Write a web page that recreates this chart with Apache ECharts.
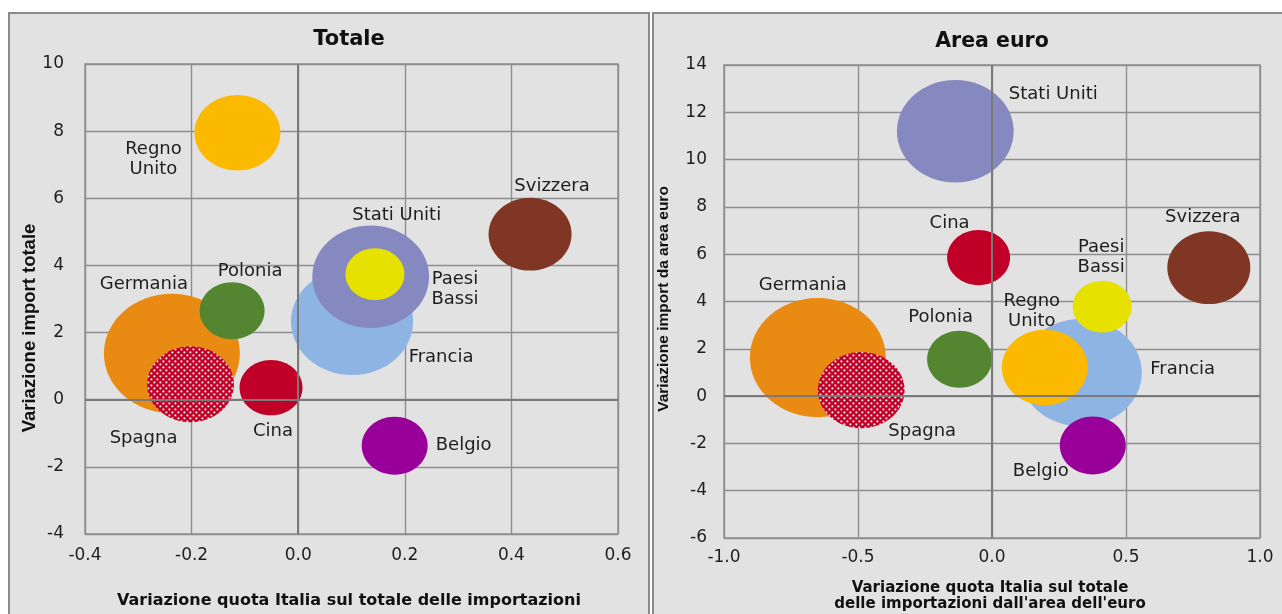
<!DOCTYPE html>
<html>
<head>
<meta charset="utf-8">
<title>Variazione quota Italia e import</title>
<script src="https://cdn.jsdelivr.net/npm/echarts@6/dist/echarts.min.js"></script>
<style>
  html, body { margin: 0; padding: 0; background: #ffffff; }
  #wrap { position: relative; width: 1282px; height: 614px; overflow: hidden; }
  .panel { position: absolute; box-sizing: border-box; border: 2px solid #8a8a8a; background: #e2e2e2; }
  #p1 { left: 8px; top: 12px; width: 642px; height: 640px; }
  #p2 { left: 652px; top: 12px; width: 640px; height: 640px; }
  #chart { position: absolute; left: 0; top: 0; width: 1282px; height: 614px; }
</style>
</head>
<body>
<div id="wrap">
  <div class="panel" id="p1"></div>
  <div class="panel" id="p2"></div>
  <div id="chart"></div>
</div>
<script>
// ---- data ----
const countries = ['Germania', 'Spagna', 'Francia', 'Stati Uniti', 'Regno Unito',
                   'Paesi Bassi', 'Belgio', 'Svizzera', 'Polonia', 'Cina'];
// bubble weight (same for both panels)
const weights = [13.0, 5.3, 10.5, 9.6, 5.2, 2.45, 3.06, 4.85, 2.97, 2.79];

// Totale: change in Italy's share (x) and change in total imports (y)
const totShare  = [-0.237, -0.202, 0.101, 0.136, -0.114, 0.144, 0.181, 0.435, -0.124, -0.051];
const totImport = [1.38, 0.46, 2.33, 3.66, 7.95, 3.74, -1.37, 4.93, 2.65, 0.36];

// Area euro: change in Italy's share of euro-area imports (x) and change in imports from euro area (y)
const euroShare  = [-0.650, -0.488, 0.331, -0.137, 0.197, 0.411, 0.376, 0.809, -0.121, -0.050];
const euroImport = [1.63, 0.25, 0.99, 11.20, 1.21, 3.78, -2.09, 5.43, 1.56, 5.86];

// axis ranges: [min, max, interval]
const totXRange  = [-0.4, 0.6, 0.2];
const totYRange  = [-4, 10, 2];
const euroXRange = [-1.0, 1.0, 0.5];
const euroYRange = [-6, 14, 2];

// ---- styling ----
const colors = {
  'Germania': '#E98A12', 'Spagna': '#C00027', 'Francia': '#8DB4E2', 'Stati Uniti': '#8589C0',
  'Regno Unito': '#FBBA00', 'Paesi Bassi': '#E6E100', 'Belgio': '#990099',
  'Svizzera': '#7F3624', 'Polonia': '#548631', 'Cina': '#C00027'
};
const wrapped = { 'Regno Unito': 'Regno\nUnito', 'Paesi Bassi': 'Paesi\nBassi' };

// label offsets (px) from the bubble centre
const totLabelOffset = {
  'Germania': [-28, -69], 'Spagna': [-47, 54], 'Francia': [89, 36], 'Stati Uniti': [26, -62],
  'Regno Unito': [-84, 27], 'Paesi Bassi': [80, 15], 'Belgio': [69, 0],
  'Svizzera': [22, -48], 'Polonia': [18, -39], 'Cina': [2, 44]
};
const euroLabelOffset = {
  'Germania': [-15, -72], 'Spagna': [61, 41], 'Francia': [102, -3], 'Stati Uniti': [98, -37],
  'Regno Unito': [-13, -56], 'Paesi Bassi': [-1, -49], 'Belgio': [-52, 26],
  'Svizzera': [-6, -50], 'Polonia': [-19, -42], 'Cina': [-29, -34]
};

const BUBBLE_K = 37.7;      // width in px per sqrt(weight)
const BUBBLE_ASPECT = 1.14; // bubbles are drawn slightly wider than tall

const FONT = 'DejaVu Sans';
const TEXT = '#1e1e1e';
const GRID_LINE = '#8e8e8e';

// red fill with small white dots for Spagna
function dottedRed() {
  const c = document.createElement('canvas');
  c.width = 6; c.height = 6;
  const g = c.getContext('2d');
  g.fillStyle = '#C00027';
  g.fillRect(0, 0, 6, 6);
  g.fillStyle = '#ffffff';
  g.fillRect(0.5, 0.5, 1.8, 1.8);
  g.fillRect(3.5, 3.5, 1.8, 1.8);
  return c;
}
const spagnaFill = { image: dottedRed(), repeat: 'repeat' };

function seriesData(xs, ys) {
  return countries.map((name, i) => ({ name: name, value: [xs[i], ys[i], weights[i]] }));
}

// ellipse bubbles
function bubbleSeries(idx, xs, ys) {
  return {
    type: 'custom', xAxisIndex: idx, yAxisIndex: idx, z: 3, silent: true,
    encode: { x: 0, y: 1 },
    data: seriesData(xs, ys),
    renderItem: function (params, api) {
      const name = countries[params.dataIndex];
      const p = api.coord([api.value(0), api.value(1)]);
      const w = BUBBLE_K * Math.sqrt(api.value(2));
      return {
        type: 'ellipse',
        shape: { cx: p[0], cy: p[1], rx: w / 2, ry: w / 2 / BUBBLE_ASPECT },
        style: { fill: name === 'Spagna' ? spagnaFill : colors[name], stroke: null }
      };
    }
  };
}

// country names, drawn above every bubble
function labelSeries(idx, xs, ys, offsets) {
  return {
    type: 'custom', xAxisIndex: idx, yAxisIndex: idx, z: 4, silent: true,
    encode: { x: 0, y: 1 },
    data: seriesData(xs, ys),
    renderItem: function (params, api) {
      const name = countries[params.dataIndex];
      const p = api.coord([api.value(0), api.value(1)]);
      const off = offsets[name];
      return {
        type: 'text',
        x: p[0] + off[0], y: p[1] + off[1],
        style: {
          text: wrapped[name] || name,
          font: '18px "DejaVu Sans"', lineHeight: 20, fill: TEXT,
          textAlign: 'center', textVerticalAlign: 'middle'
        }
      };
    }
  };
}

function xAxisOf(grid, range, margin) {
  return {
    type: 'value', gridIndex: grid, min: range[0], max: range[1], interval: range[2],
    axisLine: { show: false }, axisTick: { show: false },
    splitLine: { show: true, lineStyle: { color: GRID_LINE, width: 1.4 } },
    axisLabel: { margin: margin, fontFamily: FONT, fontSize: 17, color: TEXT,
                 formatter: v => Number(v).toFixed(1) }
  };
}
function yAxisOf(grid, range, margin) {
  return {
    type: 'value', gridIndex: grid, min: range[0], max: range[1], interval: range[2],
    axisLine: { show: false }, axisTick: { show: false },
    splitLine: { show: true, lineStyle: { color: GRID_LINE, width: 1.4 } },
    axisLabel: { margin: margin, fontFamily: FONT, fontSize: 17, color: TEXT }
  };
}
function zeroLines(idx) {
  return {
    type: 'scatter', xAxisIndex: idx, yAxisIndex: idx, data: [], z: 1, silent: true,
    markLine: {
      silent: true, symbol: 'none', animation: false,
      label: { show: false },
      lineStyle: { color: '#7a7a7a', width: 2, type: 'solid' },
      emphasis: { disabled: true },
      data: [{ xAxis: 0 }, { yAxis: 0 }]
    }
  };
}

const chart = echarts.init(document.getElementById('chart'), null, { renderer: 'canvas' });
chart.setOption({
  animation: false,
  backgroundColor: 'transparent',
  title: [
    { text: 'Totale', left: 349, top: 29, textAlign: 'center', padding: 0,
      textStyle: { fontFamily: FONT, fontSize: 21, fontWeight: 'bold', color: '#111' } },
    { text: 'Area euro', left: 992, top: 31, textAlign: 'center', padding: 0,
      textStyle: { fontFamily: FONT, fontSize: 20.5, fontWeight: 'bold', color: '#111' } }
  ],
  grid: [
    { left: 85, top: 64, width: 533, height: 470, show: true,
      borderColor: GRID_LINE, borderWidth: 1.4, backgroundColor: 'transparent' },
    { left: 724, top: 65, width: 536, height: 473, show: true,
      borderColor: GRID_LINE, borderWidth: 1.4, backgroundColor: 'transparent' }
  ],
  xAxis: [xAxisOf(0, totXRange, 13), xAxisOf(1, euroXRange, 11)],
  yAxis: [yAxisOf(0, totYRange, 21), yAxisOf(1, euroYRange, 17)],
  graphic: [
    { type: 'text', x: 30, y: 328, rotation: Math.PI / 2, z: 10,
      style: { text: 'Variazione import totale', font: 'bold 18.5px "Liberation Sans"',
               fill: '#111', textAlign: 'center', textVerticalAlign: 'middle' } },
    { type: 'text', x: 664, y: 299, rotation: Math.PI / 2, z: 10,
      style: { text: 'Variazione import da area euro', font: 'bold 15.5px "Liberation Sans"',
               fill: '#111', textAlign: 'center', textVerticalAlign: 'middle' } },
    { type: 'text', x: 349, y: 601, z: 10,
      style: { text: 'Variazione quota Italia sul totale delle importazioni',
               font: 'bold 16px "DejaVu Sans"', fill: '#111',
               textAlign: 'center', textVerticalAlign: 'middle' } },
    { type: 'text', x: 990, y: 596, z: 10,
      style: { text: "Variazione quota Italia sul totale\ndelle importazioni dall'area dell'euro",
               font: 'bold 15px "DejaVu Sans"', lineHeight: 16, fill: '#111',
               textAlign: 'center', textVerticalAlign: 'middle' } }
  ],
  series: [
    zeroLines(0),
    zeroLines(1),
    bubbleSeries(0, totShare, totImport),
    bubbleSeries(1, euroShare, euroImport),
    labelSeries(0, totShare, totImport, totLabelOffset),
    labelSeries(1, euroShare, euroImport, euroLabelOffset)
  ]
});
</script>
</body>
</html>
